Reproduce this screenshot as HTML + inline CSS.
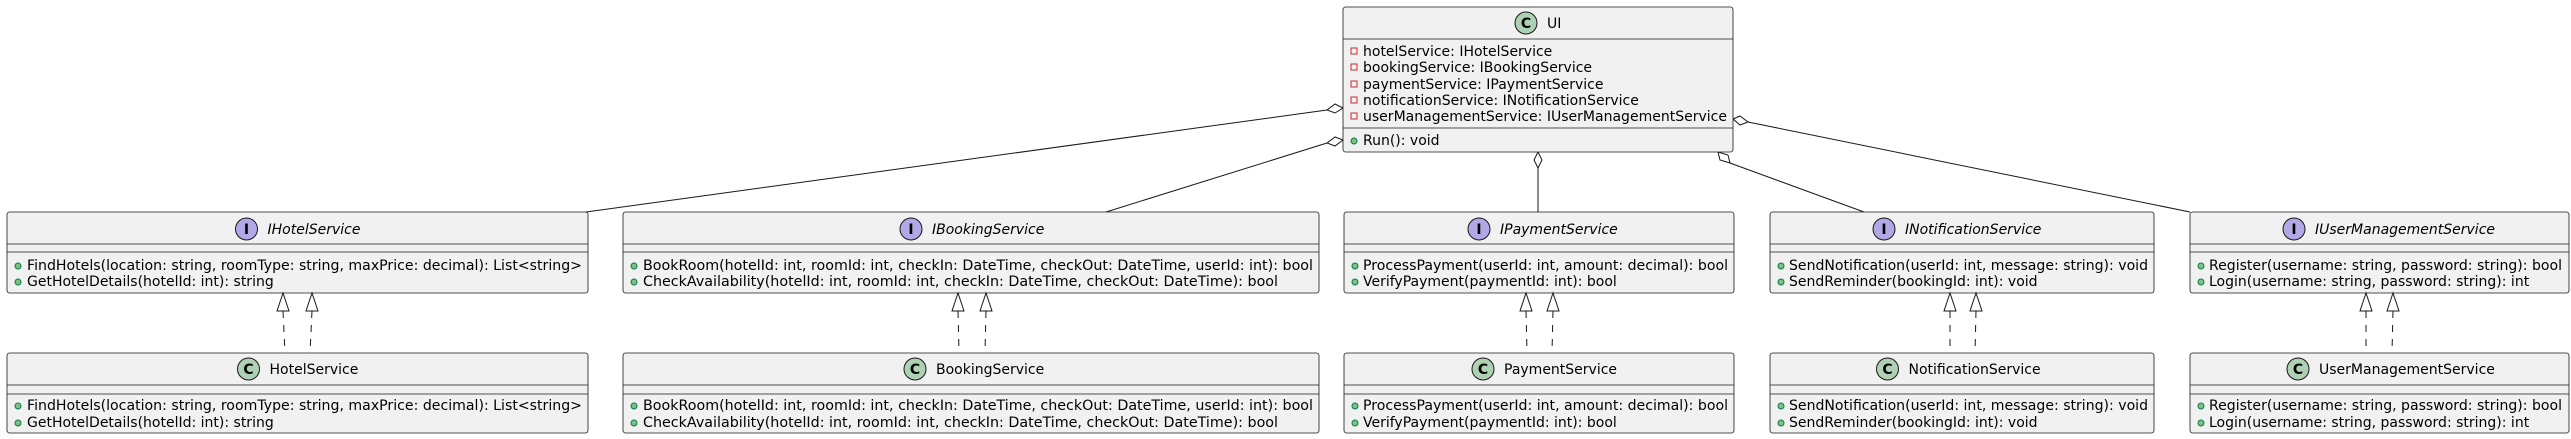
<!DOCTYPE html>
<html><head><meta charset="utf-8"><style>
html,body{margin:0;padding:0;background:#fff;}
svg{display:block;}
text{font-family:"DejaVu Sans","Liberation Sans",sans-serif;font-size:14px;fill:#000;}
.t{font-size:14px;}
.i{font-style:italic;}
.box{fill:#F1F1F1;stroke:#181818;stroke-width:0.8;}
.ln{stroke:#181818;stroke-width:0.8;}
.ci{fill:#B4A7E5;stroke:#181818;stroke-width:1;}
.cc{fill:#ADD1B2;stroke:#181818;stroke-width:1;}
.lt{font-weight:bold;font-size:14px;}
.dot{fill:#84BE84;stroke:#038048;stroke-width:1;}
.sq{fill:none;stroke:#C82930;stroke-width:1;}
.c{stroke:#181818;stroke-width:1;fill:none;}
.d{stroke:#181818;stroke-width:1;fill:none;stroke-dasharray:7,7;}
.tri{fill:#fff;stroke:#181818;stroke-width:1;}
.dia{fill:#fff;stroke:#181818;stroke-width:1;}
</style></head><body>
<svg width="2571" height="439" viewBox="0 0 2571 439" xmlns="http://www.w3.org/2000/svg">

<!-- connectors -->
<line class="c" x1="1327" y1="110" x2="586" y2="212"/>
<polygon class="dia" points="1343,108 1335,104 1327,110 1335,113"/>
<line class="c" x1="1327" y1="143" x2="1106" y2="212"/>
<polygon class="dia" points="1343,140 1335,137 1327,143 1335,146"/>
<line class="c" x1="1538" y1="168" x2="1538" y2="212"/>
<polygon class="dia" points="1538,152 1534,160 1538,168 1542,160"/>
<line class="c" x1="1730" y1="163" x2="1864" y2="212"/>
<polygon class="dia" points="1718,152 1720,160 1730,163 1728,155"/>
<line class="c" x1="1748" y1="122" x2="2190" y2="212"/>
<polygon class="dia" points="1733,119 1740,116 1748,122 1740,125"/>

<!-- UI box -->
<rect class="box" x="1343" y="7" width="390" height="145" rx="2.5"/>
<line class="ln" x1="1343" y1="39" x2="1733" y2="39"/>
<line class="ln" x1="1343" y1="128" x2="1733" y2="128"/>
<circle class="cc" cx="1526" cy="23" r="11"/>
<text class="lt" x="1526" y="28" text-anchor="middle">C</text>
<text x="1547" y="28">UI</text>
<rect class="sq" x="1351" y="48" width="6" height="6"/><text x="1363" y="56">hotelService: IHotelService</text>
<rect class="sq" x="1351" y="64" width="6" height="6"/><text x="1363" y="72">bookingService: IBookingService</text>
<rect class="sq" x="1351" y="81" width="6" height="6"/><text x="1363" y="89">paymentService: IPaymentService</text>
<rect class="sq" x="1351" y="97" width="6" height="6"/><text x="1363" y="105">notificationService: INotificationService</text>
<rect class="sq" x="1351" y="113" width="6" height="6"/><text x="1363" y="121" textLength="364" lengthAdjust="spacingAndGlyphs">userManagementService: IUserManagementService</text>
<circle class="dot" cx="1354" cy="141" r="3"/><text x="1363" y="145">Run(): void</text>

<!-- Row 1 interfaces -->
<g>
<rect class="box" x="7" y="212" width="581" height="81" rx="2.5"/>
<line class="ln" x1="7" y1="244" x2="588" y2="244"/><line class="ln" x1="7" y1="252" x2="588" y2="252"/>
<circle class="ci" cx="246.5" cy="229" r="11"/><text class="lt" x="246.5" y="234" text-anchor="middle">I</text>
<text class="i" x="267.5" y="234">IHotelService</text>
<circle class="dot" cx="18" cy="266" r="3"/><text x="27" y="270" textLength="555" lengthAdjust="spacingAndGlyphs">FindHotels(location: string, roomType: string, maxPrice: decimal): List&lt;string&gt;</text>
<circle class="dot" cx="18" cy="282" r="3"/><text x="27" y="286">GetHotelDetails(hotelId: int): string</text>
</g>
<g>
<rect class="box" x="623" y="212" width="696" height="81" rx="2.5"/>
<line class="ln" x1="623" y1="244" x2="1319" y2="244"/><line class="ln" x1="623" y1="252" x2="1319" y2="252"/>
<circle class="ci" cx="911" cy="229" r="11"/><text class="lt" x="911" y="234" text-anchor="middle">I</text>
<text class="i" x="932" y="234">IBookingService</text>
<circle class="dot" cx="634" cy="266" r="3"/><text x="643" y="270" textLength="670" lengthAdjust="spacingAndGlyphs">BookRoom(hotelId: int, roomId: int, checkIn: DateTime, checkOut: DateTime, userId: int): bool</text>
<circle class="dot" cx="634" cy="282" r="3"/><text x="643" y="286" textLength="635" lengthAdjust="spacingAndGlyphs">CheckAvailability(hotelId: int, roomId: int, checkIn: DateTime, checkOut: DateTime): bool</text>
</g>
<g>
<rect class="box" x="1344" y="212" width="390" height="81" rx="2.5"/>
<line class="ln" x1="1344" y1="244" x2="1734" y2="244"/><line class="ln" x1="1344" y1="252" x2="1734" y2="252"/>
<circle class="ci" cx="1479" cy="229" r="11"/><text class="lt" x="1479" y="234" text-anchor="middle">I</text>
<text class="i" x="1500" y="234">IPaymentService</text>
<circle class="dot" cx="1355" cy="266" r="3"/><text x="1363" y="270" textLength="365" lengthAdjust="spacingAndGlyphs">ProcessPayment(userId: int, amount: decimal): bool</text>
<circle class="dot" cx="1355" cy="282" r="3"/><text x="1363" y="286">VerifyPayment(paymentId: int): bool</text>
</g>
<g>
<rect class="box" x="1770" y="212" width="384" height="81" rx="2.5"/>
<line class="ln" x1="1770" y1="244" x2="2154" y2="244"/><line class="ln" x1="1770" y1="252" x2="2154" y2="252"/>
<circle class="ci" cx="1884" cy="229" r="11"/><text class="lt" x="1884" y="234" text-anchor="middle">I</text>
<text class="i" x="1905" y="234">INotificationService</text>
<circle class="dot" cx="1781" cy="266" r="3"/><text x="1789" y="270" textLength="359" lengthAdjust="spacingAndGlyphs">SendNotification(userId: int, message: string): void</text>
<circle class="dot" cx="1781" cy="282" r="3"/><text x="1789" y="286">SendReminder(bookingId: int): void</text>
</g>
<g>
<rect class="box" x="2190" y="212" width="379" height="81" rx="2.5"/>
<line class="ln" x1="2190" y1="244" x2="2569" y2="244"/><line class="ln" x1="2190" y1="252" x2="2569" y2="252"/>
<circle class="ci" cx="2294" cy="229" r="11"/><text class="lt" x="2294" y="234" text-anchor="middle">I</text>
<text class="i" x="2315" y="234">IUserManagementService</text>
<circle class="dot" cx="2201" cy="266" r="3"/><text x="2209" y="270" textLength="353" lengthAdjust="spacingAndGlyphs">Register(username: string, password: string): bool</text>
<circle class="dot" cx="2201" cy="282" r="3"/><text x="2209" y="286">Login(username: string, password: string): int</text>
</g>

<!-- realization arrows -->
<g>
<line class="d" x1="283" y1="311" x2="285" y2="353"/><polygon class="tri" points="283,293 277,311 289,311"/>
<line class="d" x1="312" y1="311" x2="310" y2="353"/><polygon class="tri" points="312,293 306,311 318,311"/>
<line class="d" x1="958" y1="311" x2="959" y2="353"/><polygon class="tri" points="958,293 952,311 964,311"/>
<line class="d" x1="986" y1="311" x2="985" y2="353"/><polygon class="tri" points="986,293 980,311 992,311"/>
<line class="d" x1="1526" y1="311" x2="1527" y2="353"/><polygon class="tri" points="1526,293 1520,311 1532,311"/>
<line class="d" x1="1553" y1="311" x2="1552" y2="353"/><polygon class="tri" points="1553,293 1547,311 1559,311"/>
<line class="d" x1="1950" y1="311" x2="1950" y2="353"/><polygon class="tri" points="1950,293 1944,311 1956,311"/>
<line class="d" x1="1976" y1="311" x2="1975" y2="353"/><polygon class="tri" points="1976,293 1970,311 1982,311"/>
<line class="d" x1="2366" y1="311" x2="2366" y2="353"/><polygon class="tri" points="2366,293 2360,311 2372,311"/>
<line class="d" x1="2393" y1="311" x2="2392" y2="353"/><polygon class="tri" points="2393,293 2387,311 2399,311"/>
</g>

<!-- Row 2 classes -->
<g>
<rect class="box" x="7" y="353" width="581" height="80" rx="2.5"/>
<line class="ln" x1="7" y1="385" x2="588" y2="385"/><line class="ln" x1="7" y1="394" x2="588" y2="394"/>
<circle class="cc" cx="248.5" cy="369" r="11"/><text class="lt" x="248.5" y="374" text-anchor="middle">C</text>
<text x="269.5" y="374">HotelService</text>
<circle class="dot" cx="18" cy="406" r="3"/><text x="27" y="410" textLength="555" lengthAdjust="spacingAndGlyphs">FindHotels(location: string, roomType: string, maxPrice: decimal): List&lt;string&gt;</text>
<circle class="dot" cx="18" cy="423" r="3"/><text x="27" y="427">GetHotelDetails(hotelId: int): string</text>
</g>
<g>
<rect class="box" x="623" y="353" width="696" height="80" rx="2.5"/>
<line class="ln" x1="623" y1="385" x2="1319" y2="385"/><line class="ln" x1="623" y1="394" x2="1319" y2="394"/>
<circle class="cc" cx="915" cy="369" r="11"/><text class="lt" x="915" y="374" text-anchor="middle">C</text>
<text x="936" y="374">BookingService</text>
<circle class="dot" cx="634" cy="406" r="3"/><text x="643" y="410" textLength="670" lengthAdjust="spacingAndGlyphs">BookRoom(hotelId: int, roomId: int, checkIn: DateTime, checkOut: DateTime, userId: int): bool</text>
<circle class="dot" cx="634" cy="423" r="3"/><text x="643" y="427" textLength="635" lengthAdjust="spacingAndGlyphs">CheckAvailability(hotelId: int, roomId: int, checkIn: DateTime, checkOut: DateTime): bool</text>
</g>
<g>
<rect class="box" x="1344" y="353" width="390" height="80" rx="2.5"/>
<line class="ln" x1="1344" y1="385" x2="1734" y2="385"/><line class="ln" x1="1344" y1="394" x2="1734" y2="394"/>
<circle class="cc" cx="1483" cy="369" r="11"/><text class="lt" x="1483" y="374" text-anchor="middle">C</text>
<text x="1504" y="374">PaymentService</text>
<circle class="dot" cx="1355" cy="406" r="3"/><text x="1363" y="410" textLength="365" lengthAdjust="spacingAndGlyphs">ProcessPayment(userId: int, amount: decimal): bool</text>
<circle class="dot" cx="1355" cy="423" r="3"/><text x="1363" y="427">VerifyPayment(paymentId: int): bool</text>
</g>
<g>
<rect class="box" x="1770" y="353" width="384" height="80" rx="2.5"/>
<line class="ln" x1="1770" y1="385" x2="2154" y2="385"/><line class="ln" x1="1770" y1="394" x2="2154" y2="394"/>
<circle class="cc" cx="1887.5" cy="369" r="11"/><text class="lt" x="1887.5" y="374" text-anchor="middle">C</text>
<text x="1908.5" y="374">NotificationService</text>
<circle class="dot" cx="1781" cy="406" r="3"/><text x="1789" y="410" textLength="359" lengthAdjust="spacingAndGlyphs">SendNotification(userId: int, message: string): void</text>
<circle class="dot" cx="1781" cy="423" r="3"/><text x="1789" y="427">SendReminder(bookingId: int): void</text>
</g>
<g>
<rect class="box" x="2190" y="353" width="379" height="80" rx="2.5"/>
<line class="ln" x1="2190" y1="385" x2="2569" y2="385"/><line class="ln" x1="2190" y1="394" x2="2569" y2="394"/>
<circle class="cc" cx="2298" cy="369" r="11"/><text class="lt" x="2298" y="374" text-anchor="middle">C</text>
<text x="2319" y="374">UserManagementService</text>
<circle class="dot" cx="2201" cy="406" r="3"/><text x="2209" y="410" textLength="353" lengthAdjust="spacingAndGlyphs">Register(username: string, password: string): bool</text>
<circle class="dot" cx="2201" cy="423" r="3"/><text x="2209" y="427">Login(username: string, password: string): int</text>
</g>
</svg>
</body></html>
